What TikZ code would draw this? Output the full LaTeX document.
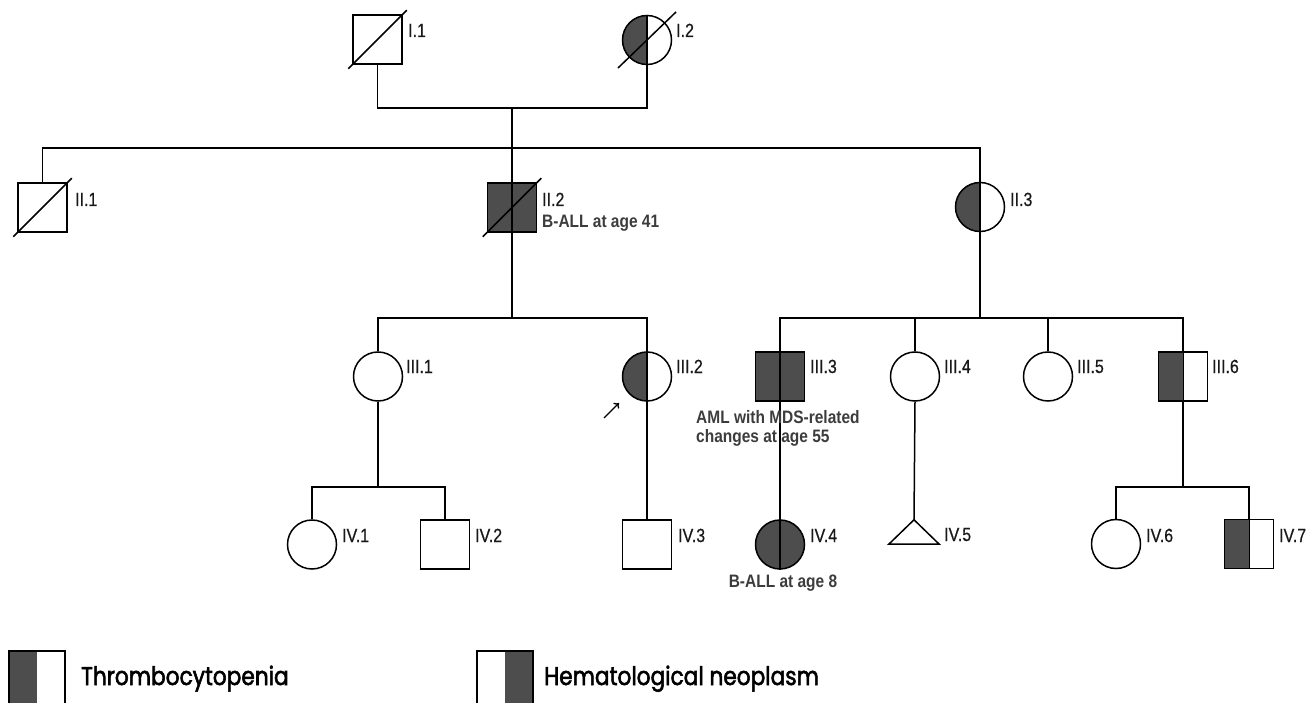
\documentclass[tikz,border=0pt]{standalone}
\usepackage{fontspec}
\setmainfont{Liberation Sans}
\newfontfamily\labfont[FakeStretch=0.84, FakeBold=0.6]{Liberation Sans}
\newfontfamily\annfont[FakeStretch=0.86]{Liberation Sans Bold}
\newfontfamily\legfont[FakeStretch=0.85, FakeBold=2.2]{Poppins}
\usetikzlibrary{arrows.meta,backgrounds}
\definecolor{fillg}{RGB}{77,77,77}
\definecolor{labc}{RGB}{25,25,25}
\definecolor{annc}{RGB}{60,60,60}
\tikzset{
  line/.style={line width=1.5pt, draw=black},
  male/.style={rectangle, draw=black, line width=1.5pt, minimum size=49pt, inner sep=0pt, fill=white},
  female/.style={circle, draw=black, line width=1.5pt, minimum size=49pt, inner sep=0pt, fill=white},
  affected/.style={fill=fillg},
  lefthalf/.style={path picture={\fill[fillg] (path picture bounding box.south west) rectangle (path picture bounding box.north);}},
  righthalf/.style={path picture={\fill[fillg] (path picture bounding box.south) rectangle (path picture bounding box.north east);}},
  lab/.style={anchor=base west, inner sep=0pt, font=\labfont\fontsize{19}{21}\selectfont, text=labc},
  ann/.style={inner sep=0pt, font=\annfont\fontsize{18}{20}\selectfont, text=annc},
  legbox/.style={rectangle, draw=black, line width=1.5pt, minimum width=56pt, minimum height=60pt, inner sep=0pt, fill=white},
  legtext/.style={anchor=base west, inner sep=0pt, font=\legfont\fontsize{25.5}{28}\selectfont, text=black},
}
\begin{document}
\begin{tikzpicture}[x=1pt, y=-1pt]
\useasboundingbox (0,0) rectangle (1309,703);

% junction coordinates
\coordinate (m1) at (512,108);
\coordinate (s2) at (512,148);
\coordinate (s3a) at (512,318);
\coordinate (s3b) at (980,318);
\coordinate (s4a) at (378,487);
\coordinate (s4b) at (1183,487);

% individuals
\node[male] (I1) at (377.5,39.5) {};
\node[female, lefthalf] (I2) at (647,40) {};
\node[male] (II1) at (42.5,207.5) {};
\node[male, affected] (II2) at (512,207.5) {};
\node[female, lefthalf] (II3) at (980,207) {};
\node[female] (III1) at (378,376.5) {};
\node[female, lefthalf] (III2) at (647,376.5) {};
\node[male, affected] (III3) at (780,376.5) {};
\node[female] (III4) at (915,376.5) {};
\node[female] (III5) at (1048,376.5) {};
\node[male, lefthalf] (III6) at (1183,376.5) {};
\node[female] (IV1) at (312,544.5) {};
\node[male] (IV2) at (445,544.5) {};
\node[male] (IV3) at (647,544.5) {};
\node[female, affected] (IV4) at (780,544.5) {};
\node[inner sep=0pt, minimum width=50pt, minimum height=24pt] (IV5) at (914,532) {};
\draw[line, line join=miter] (IV5.south west) -- (IV5.north) -- (IV5.south east) -- cycle;
\node[female] (IV6) at (1116,544) {};
\node[male, lefthalf] (IV7) at (1249,544) {};

% connectors behind the shapes
\begin{scope}[on background layer]
  \draw[line] (I1.south) |- (m1) -| (I2.south);
  \draw[line] (m1) -- (s2);
  \draw[line] (II1.north) |- (s2) -| (II3.north);
  \draw[line] (s2) -- (II2.north);
  \draw[line] (II2.south) -- (s3a);
  \draw[line] (III1.north) |- (s3a) -| (III2.north);
  \draw[line] (II3.south) -- (s3b);
  \draw[line] (III3.north) |- (s3b) -| (III6.north);
  \draw[line] (III4.north) -- (III4.north |- s3b);
  \draw[line] (III5.north) -- (III5.north |- s3b);
  \draw[line] (III1.south) -- (s4a);
  \draw[line] (IV1.north) |- (s4a) -| (IV2.north);
  \draw[line] (III2.south) -- (IV3.north);
  \draw[line] (III3.south) -- (IV4.north);
  \draw[line] (III4.south) -- (IV5.north);
  \draw[line] (III6.south) -- (s4b);
  \draw[line] (IV6.north) |- (s4b) -| (IV7.north);
\end{scope}

% lines passing through filled / half-filled symbols
\draw[line] (I2.north) -- (I2.south);
\draw[line] (II2.north) -- (II2.south);
\draw[line] (II3.north) -- (II3.south);
\draw[line] (III2.north) -- (III2.south);
\draw[line] (III3.north) -- (III3.south);
\draw[line] (IV4.north) -- (IV4.south);
\draw[line, line width=1pt] (III6.north) -- (III6.south);
\draw[line, line width=1pt] (IV7.north) -- (IV7.south);

% deceased slashes
\draw[line] ([shift={(-4,4)}]I1.south west) -- ([shift={(4,-4)}]I1.north east);
\draw[line] ([shift={(-4,4)}]II1.south west) -- ([shift={(4,-4)}]II1.north east);
\draw[line] ([shift={(-4,4)}]II2.south west) -- ([shift={(4,-4)}]II2.north east);
\draw[line] ([shift={(-29,28)}]I2.center) -- ([shift={(29,-28)}]I2.center);

% proband arrow
\coordinate (pa) at (604,418);
\coordinate (pb) at (619,403);
\draw[line width=1.3pt, -{To[length=4.5pt, width=8pt]}] (pa) -- (pb);

% labels
\node[lab] (lI1) at (408,37) {I.1};
\node[lab] (lI2) at (676,37) {I.2};
\node[lab] (lII1) at (75,206) {II.1};
\node[lab] (lII2) at (542,206) {II.2};
\node[ann, anchor=base west] (aII2) at (542,228) {B-ALL at age 41};
\node[lab] (lII3) at (1010,206) {II.3};
\node[lab] (lIII1) at (406,373) {III.1};
\node[lab] (lIII2) at (676,373) {III.2};
\node[lab] (lIII3) at (810,373) {III.3};
\node[lab] (lIII4) at (944,373) {III.4};
\node[lab] (lIII5) at (1077,373) {III.5};
\node[lab] (lIII6) at (1212,373) {III.6};
\node[ann, anchor=base west] (aIII3a) at (696,423) {AML with MDS-related};
\node[ann, anchor=base west] (aIII3b) at (696,442) {changes at age 55};
\node[lab] (lIV1) at (342,542) {IV.1};
\node[lab] (lIV2) at (475,542) {IV.2};
\node[lab] (lIV3) at (678,542) {IV.3};
\node[lab] (lIV4) at (810,542) {IV.4};
\node[ann, anchor=base] (aIV4) at (783,587) {B-ALL at age 8};
\node[lab] (lIV5) at (944,541) {IV.5};
\node[lab] (lIV6) at (1146,542) {IV.6};
\node[lab] (lIV7) at (1279,542) {IV.7};

% legend
\node[legbox, lefthalf] (L1) at (37,681) {};
\node[legtext] (T1) at (81,685) {Thrombocytopenia};
\node[legbox, righthalf] (L2) at (505,681) {};
\node[legtext] (T2) at (544,685) {Hematological neoplasm};
\end{tikzpicture}
\end{document}
